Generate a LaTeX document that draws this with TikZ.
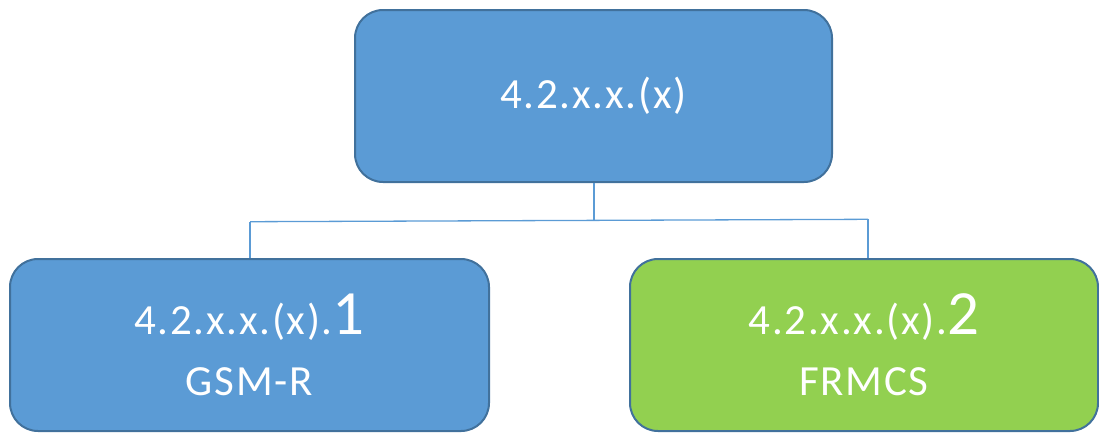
\documentclass[tikz,border=0pt]{standalone}
\usepackage{fontspec}
\setmainfont{Carlito}[LetterSpace=4]
\definecolor{boxblue}{HTML}{5B9BD5}
\definecolor{boxedge}{HTML}{41719C}
\definecolor{boxgreen}{HTML}{92D050}
\definecolor{linkblue}{HTML}{5B9BD5}
\begin{document}
\begin{tikzpicture}[x=1pt,y=-1pt,
  box/.style={draw=boxedge,line width=2pt,rounded corners=28pt,fill=boxblue,text=white,align=center,inner sep=0pt,font=\fontsize{43}{61}\selectfont},
  link/.style={draw=linkblue,line width=1.3pt}]
\useasboundingbox (0,0) rectangle (1099,432);
\node[box,minimum width=477pt,minimum height=172pt] (top) at (593.5,96)
  {4.2.x.x.(x)};
\node[box,minimum width=479pt,minimum height=172pt] (left) at (249.5,345)
  {4.2.x.x.(x).{\fontsize{63}{61}\selectfont 1}\\GSM-R};
\node[box,fill=boxgreen,minimum width=468pt,minimum height=172pt] (right) at (864,345)
  {4.2.x.x.(x).{\fontsize{63}{61}\selectfont 2}\\FRMCS};
\coordinate (jm) at (594,220.4);
\coordinate (jl) at (250,221.7);
\coordinate (jr) at (868,219.3);
\draw[link] (top.south -| jm) -- (jm);
\draw[link] (jl) -- (jr);
\draw[link] (jl) -- (jl |- left.north);
\draw[link] (jr) -- (jr |- right.north);
\end{tikzpicture}
\end{document}
